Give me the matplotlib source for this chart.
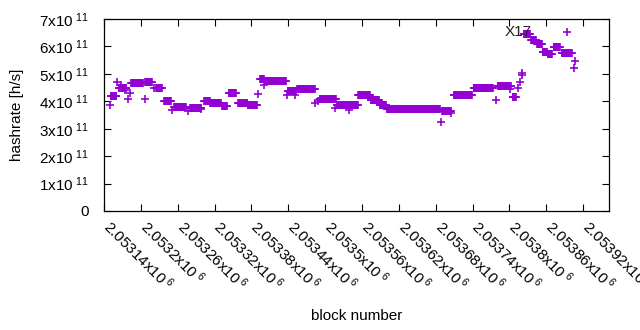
import numpy as np
import matplotlib
matplotlib.use("Agg")
import matplotlib.pyplot as plt
from matplotlib.transforms import ScaledTranslation

plt.rcParams['font.family'] = ['Liberation Sans', 'DejaVu Sans']
plt.rcParams['mathtext.fontset'] = 'custom'
plt.rcParams['mathtext.rm'] = 'Liberation Sans'
plt.rcParams['mathtext.it'] = 'Liberation Sans:italic'
plt.rcParams['mathtext.bf'] = 'Liberation Sans:bold'

# Runs of constant hashrate: start block, end block, hashrate (x1e11 h/s)
run_start = [2053151, 2053164, 2053184, 2053207, 2053225, 2053238, 2053254, 2053280,
             2053303, 2053313, 2053332, 2053343, 2053358, 2053374, 2053394, 2053402,
             2053439, 2053454, 2053491, 2053519, 2053554, 2053574, 2053589, 2053600,
             2053690, 2053709, 2053742, 2053781, 2053805, 2053823, 2053835, 2053845,
             2053854, 2053862, 2053872, 2053885]
run_end = [2053160, 2053176, 2053203, 2053218, 2053234, 2053249, 2053273, 2053298,
           2053312, 2053330, 2053340, 2053355, 2053373, 2053389, 2053400, 2053436,
           2053452, 2053483, 2053517, 2053553, 2053573, 2053587, 2053599, 2053687,
           2053705, 2053739, 2053773, 2053802, 2053810, 2053833, 2053843, 2053853,
           2053861, 2053869, 2053882, 2053901]
run_rate = [4.19, 4.50, 4.66, 4.72, 4.47, 4.00, 3.79, 3.76,
            4.00, 3.93, 3.81, 4.29, 3.95, 3.86, 4.80, 4.75,
            4.38, 4.44, 4.07, 3.85, 4.22, 4.05, 3.86, 3.71,
            3.63, 4.23, 4.50, 4.56, 4.17, 6.45, 6.23, 6.09,
            5.81, 5.71, 5.99, 5.75]

# Isolated points
pt_block = [2053150, 2053161, 2053168, 2053174, 2053179, 2053182, 2053206, 2053221,
            2053251, 2053277, 2053298, 2053391, 2053400, 2053438, 2053451, 2053483,
            2053488, 2053516, 2053539, 2053688, 2053705, 2053778, 2053801, 2053814,
            2053817, 2053820, 2053821, 2053893, 2053905, 2053906]
pt_rate = [3.86, 4.71, 4.60, 4.42, 4.10, 4.30, 4.09, 4.47,
           3.68, 3.65, 3.72, 4.26, 4.59, 4.23, 4.24, 3.93,
           4.00, 3.75, 3.68, 3.25, 3.58, 4.05, 4.45, 4.47,
           4.71, 4.96, 5.04, 6.51, 5.20, 5.48]

x_ticks = [2053140 + 60 * k for k in range(14)]
y_ticks = [0, 1, 2, 3, 4, 5, 6, 7]
label_text = "X17"
label_pos = (2053792, 6.535)

color = '#9400D3'

fig = plt.figure(figsize=(6.4, 3.3), dpi=100)
ax = fig.add_axes([104/640, 1 - 211/330, (609 - 104)/640, (211 - 19)/330])

xs, ys = [], []
for s, e, r in zip(run_start, run_end, run_rate):
    b = np.arange(s, e + 1)
    xs.append(b)
    ys.append(np.full(len(b), r * 1e11))
xs.append(np.array(pt_block))
ys.append(np.array(pt_rate) * 1e11)
x = np.concatenate(xs)
y = np.concatenate(ys)
ax.plot(x, y, linestyle='none', marker='+', markersize=6.2, markeredgewidth=1.2, color=color)

ax.text(label_pos[0], label_pos[1] * 1e11, label_text, ha='left', va='center', fontsize=11, color='#202020')

ax.set_xlim(2053140, 2053962)
ax.set_ylim(0, 7e11)
ax.set_xticks(x_ticks)
ax.set_yticks([v * 1e11 for v in y_ticks])

def xlab(v):
    return r'$\mathrm{%s x10}^{\mathrm{\ 6}}$' % ('%g' % (v / 1e6))
ax.set_xticklabels([xlab(v) for v in x_ticks], rotation=-45, ha='left', va='top',
                   rotation_mode='anchor', fontsize=11)
ylabels = ['0' if v == 0 else r'$\mathrm{%dx10}^{\mathrm{\ 11}}$' % v for v in y_ticks]
ax.set_yticklabels(ylabels, fontsize=11)

ax.tick_params(direction='in', top=True, right=True, length=5, width=0.8)
ax.tick_params(axis='y', pad=11)
ax.tick_params(axis='x', pad=4)
for sp in ax.spines.values():
    sp.set_linewidth(0.9)

shift = ScaledTranslation(9 / 100, 0, fig.dpi_scale_trans)
for lab in ax.get_xticklabels():
    lab.set_transform(lab.get_transform() + shift)

ax.set_xlabel('block number', fontsize=11)
ax.set_ylabel('hashrate [h/s]', fontsize=11)
ax.xaxis.set_label_coords(0.5, -(316 - 211) / (211 - 19))
ax.xaxis.label.set_va('center')
ax.yaxis.set_label_coords(-(104 - 17) / (609 - 104), 0.5)
ax.yaxis.label.set_va('center')

fig.savefig('out.png', dpi=100)
